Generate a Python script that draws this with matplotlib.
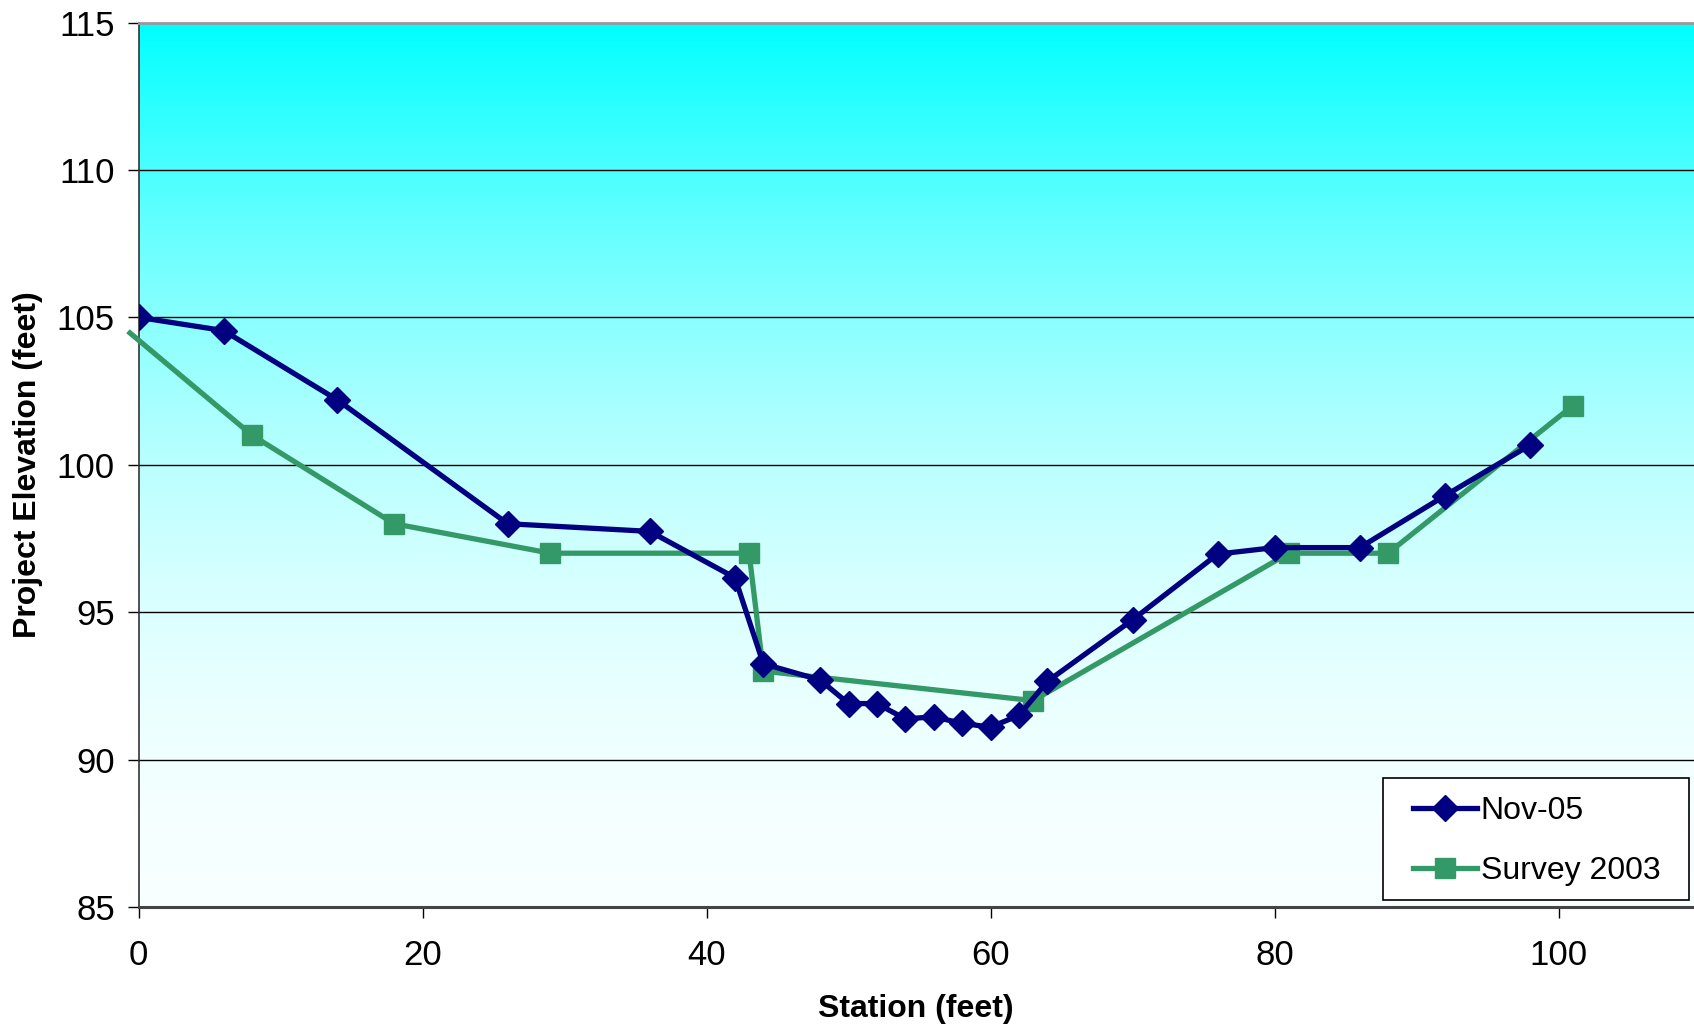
import numpy as np
import matplotlib
matplotlib.use("Agg")
import matplotlib.pyplot as plt
from matplotlib.patches import Rectangle

plt.rcParams["font.family"] = ["Liberation Sans", "DejaVu Sans"]

# Nov-05 survey
nov_station = [0, 6, 14, 26, 36, 42, 44, 48, 50, 52, 54, 56, 58, 60, 62, 64, 70, 76, 80, 86, 92, 98]
nov_elev = [105.0, 104.55, 102.2, 98.0, 97.74, 96.17, 93.25, 92.7, 91.9, 91.9, 91.38, 91.45,
            91.23, 91.1, 91.5, 92.65, 94.74, 96.97, 97.19, 97.19, 98.95, 100.67]

# Survey 2003 (first point lies just left of the axis)
srv_station = [-0.6, 8, 18, 29, 43, 44, 63, 81, 88, 101]
srv_elev = [104.47, 101.0, 98.0, 97.0, 97.0, 93.0, 92.0, 97.0, 97.0, 102.0]

x_ticks = [0, 20, 40, 60, 80, 100]
y_ticks = [85, 90, 95, 100, 105, 110, 115]

W, H = 1694, 1029
fig = plt.figure(figsize=(W / 100, H / 100), dpi=100)
ax = fig.add_axes([138.5 / W, 1 - 907 / H, (W - 138.5) / W, (907 - 22.5) / H])

xmin, xmax = 0, 109.54
ymin, ymax = 85, 115

# cyan -> near white gradient, fading quickly toward the bottom
t = np.linspace(0, 1, 256)[:, None]
r = 0.97 * (1 - (1 - t) ** 2)
grad = np.concatenate([r, np.ones_like(t), np.ones_like(t)], axis=1)
ax.imshow(grad[:, None, :], extent=[xmin, xmax, ymin, ymax], aspect="auto",
          origin="upper", zorder=0, interpolation="bilinear")

for yv in y_ticks[1:-1]:
    ax.axhline(yv, color="black", lw=1.0, zorder=1)

ax.plot(nov_station, nov_elev, color="#000080", lw=3.8, marker="D", ms=13.5,
        mec="#000080", mfc="#000080", label="Nov-05", zorder=4)
ax.plot(srv_station, srv_elev, color="#339966", lw=3.8, marker="s", ms=14.5,
        mec="#339966", mfc="#339966", markevery=list(range(1, len(srv_station))),
        label="Survey 2003", zorder=3, clip_on=False)

ax.set_xlim(xmin, xmax)
ax.set_ylim(ymin, ymax)
ax.set_xticks(x_ticks)
ax.set_yticks(y_ticks)
ax.tick_params(axis="both", labelsize=25, direction="out", length=8, width=1, color="black")
ax.tick_params(axis="x", pad=15)
ax.tick_params(axis="y", pad=9)

ax.spines["right"].set_visible(False)
ax.spines["top"].set_color("#999999")
ax.spines["top"].set_linewidth(2)
ax.spines["bottom"].set_color("#444444")
ax.spines["bottom"].set_linewidth(2.2)
ax.spines["left"].set_color("#333333")
ax.spines["left"].set_linewidth(1.2)

ax.set_xlabel("Station (feet)", fontsize=23, fontweight="bold")
ax.set_ylabel("Project Elevation (feet)", fontsize=23, fontweight="bold")
ax.xaxis.set_label_coords(0.5, -0.098)
ax.yaxis.set_label_coords(-0.0614, 0.5)

# legend frame drawn separately so the entries can sit with Excel-like padding
frame = Rectangle((0.8001, 0.0079), 0.1967, 0.1379, transform=ax.transAxes,
                  facecolor="white", edgecolor="black", lw=1.2, zorder=5)
ax.add_patch(frame)
leg = ax.legend(loc="center left", bbox_to_anchor=(0.8194, 0.0745),
                fontsize=23, frameon=False, handlelength=2.0, handletextpad=0.12,
                labelspacing=0.93, borderpad=0, borderaxespad=0, markerscale=1.0)
leg.set_zorder(6)

fig.savefig("out.png", dpi=100)
